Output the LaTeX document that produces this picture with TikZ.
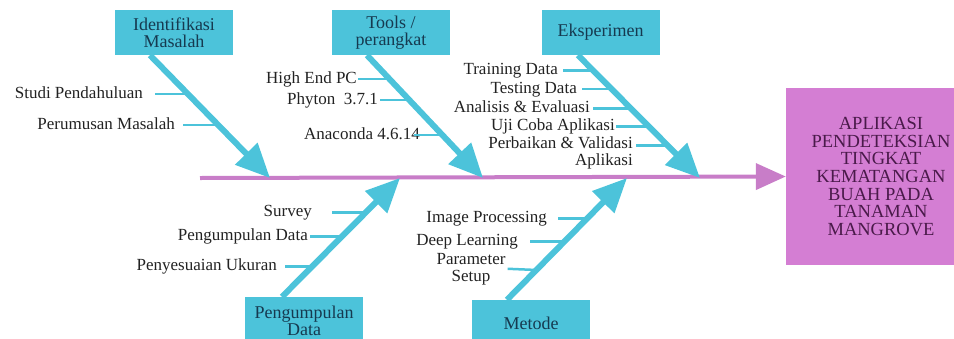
\documentclass[tikz,border=0pt]{standalone}
\usepackage{fontspec}
\setmainfont{Liberation Serif}
\usetikzlibrary{arrows.meta}
\definecolor{cy}{HTML}{4CC3DA}
\definecolor{pk}{HTML}{D47ED3}
\definecolor{spn}{HTML}{C87DC8}
\definecolor{bxtxt}{HTML}{163A50}
\definecolor{rtxt}{HTML}{4A1A4A}
\definecolor{lbl}{HTML}{222222}
\begin{document}
\begin{tikzpicture}[x=1pt,y=-1pt,
 catbox/.style={fill=cy, minimum width=118pt, minimum height=45pt, inner sep=0pt, align=center, text=bxtxt, font=\fontsize{18}{17}\selectfont},
 lab/.style={anchor=east, inner sep=0pt, text height=12pt, text depth=4pt, text=lbl, font=\fontsize{17}{17}\selectfont},
 labm/.style={inner sep=0pt, text=lbl, font=\fontsize{17}{17}\selectfont},
 bone/.style={draw=cy, line width=6pt, -{Triangle[length=34pt,width=30pt]}},
 sub/.style={draw=cy, line width=2.5pt},
 spine/.style={draw=spn, line width=4pt, -{Triangle[length=30pt,width=26pt]}},
 ]
\useasboundingbox (0,0) rectangle (954,338);
% result box
\node[fill=pk, minimum width=190pt, minimum height=177pt, inner sep=0pt, align=center, text=rtxt, font=\fontsize{18.5}{17.6}\selectfont] (res) at (881,176.5) {APLIKASI\\PENDETEKSIAN\\TINGKAT\\KEMATANGAN\\BUAH PADA\\TANAMAN\\MANGROVE};
% category boxes
\node[catbox] (im) at (174,32.5) {Identifikasi\\Masalah};
\node[catbox] (tp) at (391,32.5) {Tools /\\perangkat};
\node[catbox] (ek) at (600.5,32.5) {Eksperimen};
\node[catbox, minimum height=48pt, font=\fontsize{18}{15.5}\selectfont] (pd) at (304,321) {Pengumpulan\\Data};
\node[catbox, minimum height=46pt] (me) at (531,323) {Metode};
% spine
\coordinate (s0) at (200,178);
\draw[spine] (s0) -- (res.west);
% bone tips on spine
\coordinate (t1) at (270,178);
\coordinate (t2) at (483,178);
\coordinate (t3) at (700,178);
\coordinate (t4) at (400,178);
\coordinate (t5) at (627,178);
\draw[bone] ([xshift=-24pt]im.south) -- (t1);
\draw[bone] ([xshift=-24pt]tp.south) -- (t2);
\draw[bone] ([xshift=-22.5pt]ek.south) -- (t3);
\draw[bone] ([xshift=-22pt]pd.north) -- (t4);
\draw[bone] ([xshift=-24pt]me.north) -- (t5);
% Identifikasi Masalah causes
\node[lab] (l1) at (143,94) {Studi Pendahuluan};
\node[lab] (l2) at (175,125) {Perumusan Masalah};
\coordinate (e1) at (188,94);
\coordinate (e2) at (218,125);
\draw[sub] ([xshift=12pt]l1.east) -- (e1);
\draw[sub] ([xshift=8pt]l2.east) -- (e2);
% Tools causes
\node[lab] (l3) at (357,79) {High End PC};
\node[lab] (l4) at (378,100) {Phyton\ \ 3.7.1};
\node[lab] (l5) at (420,135) {Anaconda 4.6.14};
\coordinate (e3) at (390,79);
\coordinate (e4) at (409,100);
\coordinate (e5) at (442,135);
\draw[sub] ([xshift=1pt]l3.east) -- (e3);
\draw[sub] ([xshift=2pt]l4.east) -- (e4);
\draw[sub] ([xshift=-6pt]l5.east) -- (e5);
% Eksperimen causes
\node[lab] (l6) at (558,70.7) {Training Data};
\node[lab] (l7) at (577,89) {Testing Data};
\node[lab] (l8) at (590,108.5) {Analisis \& Evaluasi};
\node[lab] (l9) at (615,126.7) {Uji Coba Aplikasi};
\node[labm, anchor=north east, align=right] (l10) at (633,136.4) {Perbaikan \& Validasi\\Aplikasi};
\coordinate (e6) at (593.6,70.7);
\coordinate (e7) at (611.7,89);
\coordinate (e8) at (631,108.5);
\coordinate (e9) at (649,126.7);
\coordinate (b10) at (636,145.7);
\coordinate (e10) at (668,145.7);
\draw[sub] ([xshift=5pt]l6.east) -- (e6);
\draw[sub] ([xshift=5pt]l7.east) -- (e7);
\draw[sub] ([xshift=3pt]l8.east) -- (e8);
\draw[sub] ([xshift=1pt]l9.east) -- (e9);
\draw[sub] (b10) -- (e10);
% Pengumpulan Data causes
\node[lab] (l11) at (312,212.3) {Survey};
\node[lab] (l12) at (308,236.7) {Pengumpulan Data};
\node[lab] (l13) at (277,266.7) {Penyesuaian Ukuran};
\coordinate (e11) at (366.3,212.3);
\coordinate (e12) at (342.3,236.7);
\coordinate (e13) at (312.8,266.7);
\draw[sub] ([xshift=20pt]l11.east) -- (e11);
\draw[sub] ([xshift=2pt]l12.east) -- (e12);
\draw[sub] ([xshift=8pt]l13.east) -- (e13);
% Metode causes
\node[lab] (l14) at (547,218.3) {Image Processing};
\node[lab] (l15) at (518,241.7) {Deep Learning};
\node[labm, anchor=north, align=center] (l16) at (471,252.7) {Parameter\\Setup};
\coordinate (e14) at (587.4,218.3);
\coordinate (e15) at (564.3,241.7);
\coordinate (e16) at (536.5,270);
\draw[sub] ([xshift=11pt]l14.east) -- (e14);
\draw[sub] ([xshift=12pt]l15.east) -- (e15);
\draw[sub] ([xshift=2pt]l16.east) -- (e16);
\end{tikzpicture}
\end{document}
